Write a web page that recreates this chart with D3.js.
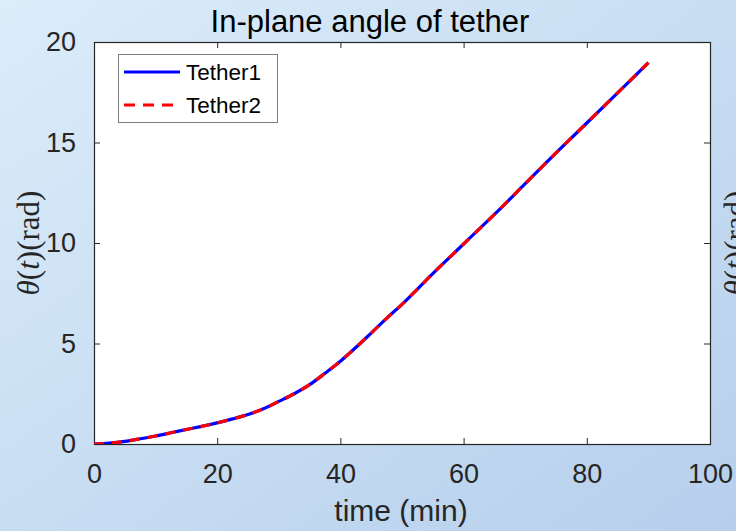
<!DOCTYPE html>
<html>
<head>
<meta charset="utf-8">
<script src="https://cdn.jsdelivr.net/npm/d3@7/dist/d3.min.js"></script>
<style>
  html, body { margin: 0; padding: 0; }
  svg { display: block; }
</style>
</head>
<body>
<svg id="chart" width="736" height="531"></svg>
<script>
// Time samples (min) and in-plane angle (rad) of each tether
const timeMin = [0, 2.5, 5, 7.5, 10, 12.5, 15, 17.5, 20, 22.5, 25, 27.5, 30, 32.5, 35, 37.5, 40, 42.5, 45, 47.5, 50, 55, 60, 65, 70, 75, 80, 85, 90];
const tether1 = [0, 0.04, 0.13, 0.26, 0.40, 0.56, 0.72, 0.88, 1.05, 1.25, 1.47, 1.75, 2.12, 2.50, 2.95, 3.52, 4.12, 4.80, 5.52, 6.25, 6.95, 8.48, 9.95, 11.42, 12.95, 14.48, 15.97, 17.47, 18.97];
const tether2 = tether1.slice();
const seriesNames = ["Tether1", "Tether2"];
const xTicks = [0, 20, 40, 60, 80, 100];
const yTicks = [0, 5, 10, 15, 20];

const svg = d3.select("#chart");
const W = 736, H = 531;
const m = { left: 94, right: 26, top: 42, bottom: 87 };
const pw = W - m.left - m.right, ph = H - m.top - m.bottom;

// figure background gradient
const defs = svg.append("defs");
const grad = defs.append("linearGradient").attr("id", "bg")
  .attr("x1", "0%").attr("y1", "0%").attr("x2", "100%").attr("y2", "100%");
grad.append("stop").attr("offset", "0%").attr("stop-color", "#dcedfa");
grad.append("stop").attr("offset", "55%").attr("stop-color", "#c6dcf2");
grad.append("stop").attr("offset", "100%").attr("stop-color", "#b7cfed");
svg.append("rect").attr("width", W).attr("height", H).attr("fill", "url(#bg)");

const x = d3.scaleLinear().domain([0, 100]).range([m.left, m.left + pw]);
const y = d3.scaleLinear().domain([0, 20]).range([m.top + ph, m.top]);

// plot area
svg.append("rect").attr("x", m.left).attr("y", m.top).attr("width", pw).attr("height", ph).attr("fill", "#ffffff");

const font = "Arial, 'Liberation Sans', Helvetica, sans-serif";
const axisColor = "#262626";

function styleAxis(g) {
  g.select(".domain").remove();
  g.selectAll(".tick line").attr("stroke", axisColor).attr("stroke-width", 1);
  g.selectAll(".tick text").attr("fill", axisColor).style("font-family", font).style("font-size", "27px");
}

// bottom & left axes with inward ticks
svg.append("g").attr("transform", `translate(0,${m.top + ph})`)
  .call(d3.axisBottom(x).tickValues(xTicks).tickSize(-6).tickFormat(d3.format("d")))
  .call(styleAxis)
  .selectAll(".tick text").attr("dy", null).attr("y", 39);
svg.append("g").attr("transform", `translate(${m.left},0)`)
  .call(d3.axisLeft(y).tickValues(yTicks).tickSize(-6).tickPadding(18).tickFormat(d3.format("d")))
  .call(styleAxis);
// top & right ticks
svg.append("g").attr("transform", `translate(0,${m.top})`)
  .call(d3.axisTop(x).tickValues(xTicks).tickSize(-6).tickFormat(""))
  .call(styleAxis);
svg.append("g").attr("transform", `translate(${m.left + pw},0)`)
  .call(d3.axisRight(y).tickValues(yTicks).tickSize(-6).tickFormat(""))
  .call(styleAxis);

// box
svg.append("rect").attr("x", m.left + 0.5).attr("y", m.top + 0.5).attr("width", pw).attr("height", ph)
  .attr("fill", "none").attr("stroke", axisColor).attr("stroke-width", 1.2);

// lines
const line = d3.line().x((d, i) => x(timeMin[i])).y(d => y(d)).curve(d3.curveMonotoneX);
const clip = defs.append("clipPath").attr("id", "plotClip");
clip.append("rect").attr("x", m.left).attr("y", m.top).attr("width", pw).attr("height", ph);
const plot = svg.append("g").attr("clip-path", "url(#plotClip)");
plot.append("path").datum(tether1).attr("d", line)
  .attr("fill", "none").attr("stroke", "#0000ff").attr("stroke-width", 3.2);
plot.append("path").datum(tether2).attr("d", line)
  .attr("fill", "none").attr("stroke", "#ff0000").attr("stroke-width", 3.2)
  .attr("stroke-dasharray", "10,8");

// title
svg.append("text").attr("x", 370).attr("y", 32).attr("text-anchor", "middle")
  .style("font-family", font).style("font-size", "31px").attr("fill", "#000")
  .text("In-plane angle of tether");

// x label
svg.append("text").attr("x", 401).attr("y", 521).attr("text-anchor", "middle")
  .style("font-family", font).style("font-size", "30px").attr("fill", axisColor)
  .text("time (min)");

// y label (LaTeX-like serif); a second copy sits just past the right edge
function yLabel(cx) {
  const t = svg.append("text").attr("transform", `translate(${cx},243) rotate(-90)`)
    .attr("text-anchor", "middle")
    .style("font-family", "'Liberation Serif', 'Times New Roman', serif").style("font-size", "31px")
    .attr("fill", axisColor);
  t.append("tspan").style("font-style", "italic").text("θ");
  t.append("tspan").text("(");
  t.append("tspan").style("font-style", "italic").text("t");
  t.append("tspan").text(")(rad)");
}
yLabel(39);
yLabel(746);

// legend
const lg = svg.append("g");
lg.append("rect").attr("x", 118.5).attr("y", 54.5).attr("width", 159).attr("height", 68)
  .attr("fill", "#ffffff").attr("stroke", "#7f7f7f").attr("stroke-width", 1);
const legendColors = ["#0000ff", "#ff0000"];
const legendDash = [null, "11,8"];
seriesNames.forEach((name, i) => {
  const ly = 72 + i * 33;
  lg.append("line").attr("x1", 124).attr("x2", 180).attr("y1", ly).attr("y2", ly)
    .attr("stroke", legendColors[i]).attr("stroke-width", 3.2)
    .attr("stroke-dasharray", legendDash[i]);
  lg.append("text").attr("x", 186).attr("y", ly).attr("dy", "0.36em")
    .style("font-family", font).style("font-size", "22.5px").attr("fill", "#000")
    .text(name);
});
</script>
</body>
</html>
